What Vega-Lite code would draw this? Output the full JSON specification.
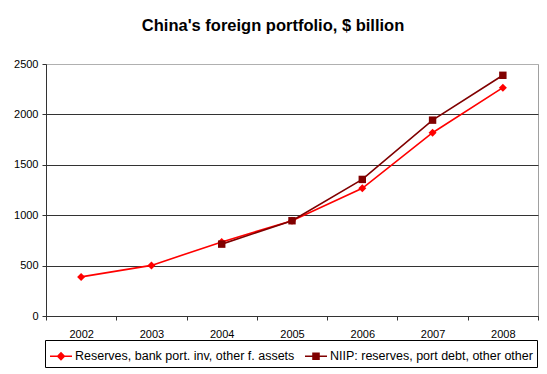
{
  "$schema": "https://vega.github.io/schema/vega-lite/v6.json",
  "width": 492,
  "height": 252,
  "autosize": "none",
  "padding": {"left": 46, "top": 64, "right": 9, "bottom": 58},
  "background": "white",
  "title": {
    "text": "China's foreign portfolio, $ billion",
    "font": "Liberation Sans",
    "fontSize": 16.5,
    "fontWeight": "bold",
    "color": "black",
    "anchor": "middle",
    "dx": -19,
    "dy": 9.5,
    "offset": 33
  },
  "config": {
    "view": {"stroke": "#a0a0a0"},
    "axis": {
      "labelFont": "Liberation Sans",
      "labelFontSize": 11,
      "labelColor": "black",
      "domainColor": "#333333",
      "tickColor": "#333333",
      "title": null
    }
  },
  "data": {
    "values": [
      {"year": "2002", "series": "Reserves, bank port. inv, other f. assets", "value": 388},
      {"year": "2003", "series": "Reserves, bank port. inv, other f. assets", "value": 502},
      {"year": "2004", "series": "Reserves, bank port. inv, other f. assets", "value": 735},
      {"year": "2005", "series": "Reserves, bank port. inv, other f. assets", "value": 945},
      {"year": "2006", "series": "Reserves, bank port. inv, other f. assets", "value": 1267},
      {"year": "2007", "series": "Reserves, bank port. inv, other f. assets", "value": 1818},
      {"year": "2008", "series": "Reserves, bank port. inv, other f. assets", "value": 2265},
      {"year": "2004", "series": "NIIP: reserves, port debt, other other", "value": 713},
      {"year": "2005", "series": "NIIP: reserves, port debt, other other", "value": 945},
      {"year": "2006", "series": "NIIP: reserves, port debt, other other", "value": 1355},
      {"year": "2007", "series": "NIIP: reserves, port debt, other other", "value": 1943},
      {"year": "2008", "series": "NIIP: reserves, port debt, other other", "value": 2388}
    ]
  },
  "encoding": {
    "x": {
      "field": "year",
      "type": "ordinal",
      "bandPosition": 0.5,
      "scale": {"type": "band", "paddingInner": 0, "paddingOuter": 0},
      "axis": {"tickBand": "extent", "labelAngle": 0, "tickSize": 4, "labelPadding": 8, "grid": false}
    },
    "y": {
      "field": "value",
      "type": "quantitative",
      "scale": {"domain": [0, 2500], "nice": false},
      "axis": {
        "values": [0, 500, 1000, 1500, 2000, 2500],
        "format": "d",
        "grid": true,
        "gridColor": {"condition": {"test": "datum.value === 2500", "value": "#b0b0b0"}, "value": "#333333"},
        "tickSize": 4,
        "labelPadding": 4
      }
    }
  },
  "layer": [
    {
      "mark": {"type": "line", "strokeWidth": 1.6},
      "encoding": {
        "color": {
          "field": "series",
          "type": "nominal",
          "scale": {
            "domain": ["Reserves, bank port. inv, other f. assets", "NIIP: reserves, port debt, other other"],
            "range": ["#ff0000", "#800000"]
          },
          "legend": {
            "orient": "none",
            "legendX": -1,
            "legendY": 276,
            "direction": "horizontal",
            "columns": 2,
            "title": null,
            "strokeColor": "black",
            "padding": 4,
            "labelFont": "Liberation Sans",
            "labelFontSize": 12.5,
            "labelColor": "black",
            "labelLimit": 0,
            "symbolSize": 484,
            "symbolStrokeWidth": 1.6,
            "columnPadding": 6,
            "labelOffset": 2,
            "encode": {
              "symbols": {
                "update": {
                  "size": {"value": 484},
                  "strokeWidth": {"value": 1.6},
                  "shape": {"signal": "datum.value === 'Reserves, bank port. inv, other f. assets' ? 'M-1,0H1M-0.3,0L0,-0.3L0.3,0L0,0.3Z' : 'M-1,0H1M-0.27,-0.27H0.27V0.27H-0.27Z'"},
                  "fill": {"signal": "datum.value === 'Reserves, bank port. inv, other f. assets' ? '#ff0000' : '#800000'"},
                  "stroke": {"signal": "datum.value === 'Reserves, bank port. inv, other f. assets' ? '#ff0000' : '#800000'"}
                }
              }
            }
          }
        }
      }
    },
    {
      "transform": [{"filter": "datum.series === 'Reserves, bank port. inv, other f. assets'"}],
      "mark": {"type": "point", "shape": "diamond", "filled": true, "size": 64, "color": "#ff0000", "opacity": 1}
    },
    {
      "transform": [{"filter": "datum.series === 'NIIP: reserves, port debt, other other'"}],
      "mark": {"type": "point", "shape": "square", "filled": true, "size": 55, "color": "#800000", "opacity": 1}
    }
  ]
}
